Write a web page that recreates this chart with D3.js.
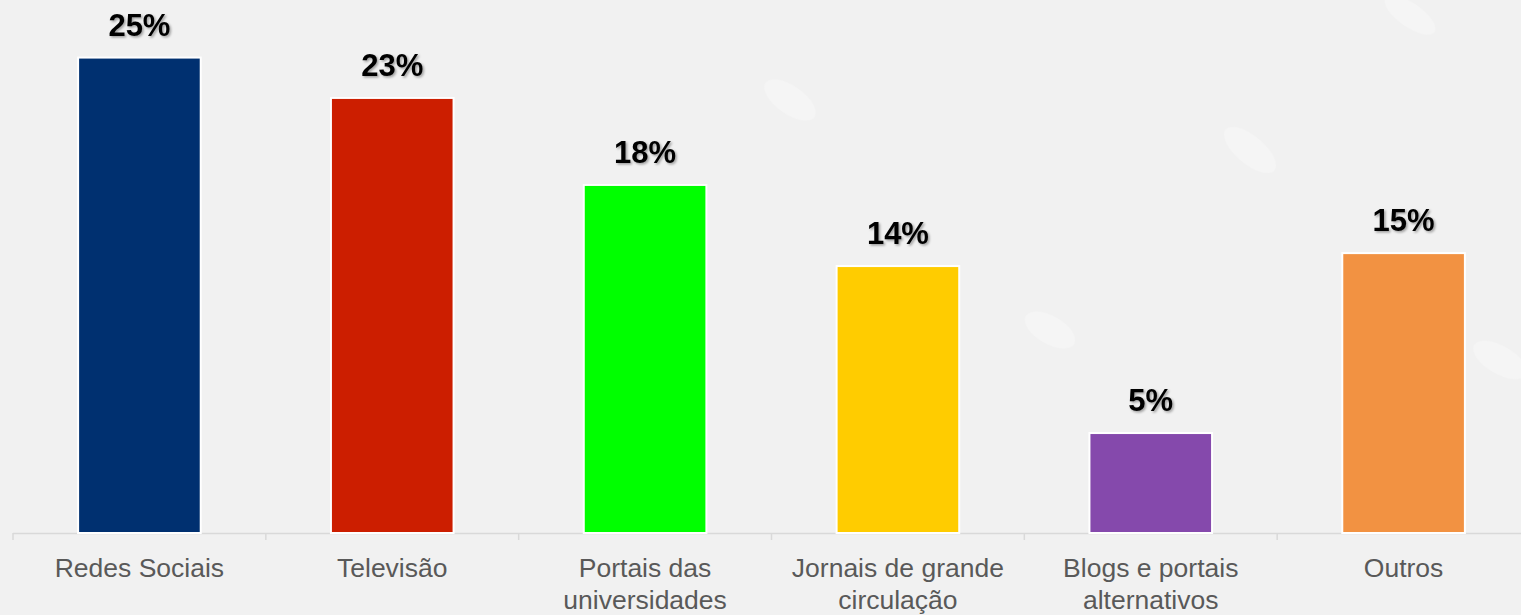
<!DOCTYPE html>
<html>
<head>
<meta charset="UTF-8">
<title>Fontes de informação</title>
<script src="https://d3js.org/d3.v7.min.js"></script>
<style>
    html, body { margin: 0; padding: 0; background: #f1f1f1; overflow: hidden; }
    text { font-family: "Liberation Sans", Arial, sans-serif; }
</style>
</head>
<body>
<div id="chart"></div>
<script>
    // data
    var categories = ["Redes Sociais", "Televisão", "Portais das universidades",
        "Jornais de grande circulação", "Blogs e portais alternativos", "Outros"];
    var labelLines = [["Redes Sociais"], ["Televisão"], ["Portais das", "universidades"],
        ["Jornais de grande", "circulação"], ["Blogs e portais", "alternativos"], ["Outros"]];
    var values = [24.97, 22.85, 18.28, 14.02, 5.25, 14.7];
    var colors = ["#003070", "#cc1e00", "#00ff00", "#ffcc00", "#8549ac", "#f29242"];

    var width = 1521, height = 615;
    var margin = {top: 57, right: -9, bottom: 82, left: 13};

    var svg = d3.select("#chart").append("svg")
        .attr("width", width)
        .attr("height", height);

    svg.append("rect").attr("width", width).attr("height", height).attr("fill", "#f1f1f1");

    // faint watermark shapes in the background
    var deco = svg.append("g").attr("fill", "#ffffff").attr("opacity", 0.3);
    deco.append("ellipse").attr("cx", 790).attr("cy", 100).attr("rx", 30).attr("ry", 14).attr("transform", "rotate(35,790,100)");
    deco.append("ellipse").attr("cx", 1250).attr("cy", 150).attr("rx", 32).attr("ry", 14).attr("transform", "rotate(40,1250,150)");
    deco.append("ellipse").attr("cx", 1050).attr("cy", 330).attr("rx", 28).attr("ry", 14).attr("transform", "rotate(30,1050,330)");
    deco.append("ellipse").attr("cx", 1500).attr("cy", 360).attr("rx", 30).attr("ry", 14).attr("transform", "rotate(30,1500,360)");
    deco.append("ellipse").attr("cx", 1410).attr("cy", 15).attr("rx", 30).attr("ry", 12).attr("transform", "rotate(35,1410,15)");

    var defs = svg.append("defs");
    var shadow = defs.append("filter").attr("id", "shadow")
        .attr("x", "-20%").attr("y", "-20%").attr("width", "140%").attr("height", "140%");
    shadow.append("feDropShadow").attr("dx", 1.5).attr("dy", 1.5)
        .attr("stdDeviation", 1).attr("flood-color", "#000").attr("flood-opacity", 0.35);

    var x = d3.scaleBand()
        .domain(categories)
        .range([margin.left, width - margin.right])
        .paddingInner(0.515)
        .paddingOuter(0.2575);

    var y = d3.scaleLinear()
        .domain([0, 25])
        .range([height - margin.bottom, margin.top]);

    var baseY = height - margin.bottom;

    // axis line with separating ticks
    var step = x.step();
    var x0 = margin.left;
    svg.append("line")
        .attr("x1", x0).attr("x2", width)
        .attr("y1", baseY + 0.5).attr("y2", baseY + 0.5)
        .attr("stroke", "#d9d9d9").attr("stroke-width", 1.5);
    svg.selectAll(".sep")
        .data(d3.range(categories.length + 1))
        .enter().append("line")
        .attr("x1", function (i) { return x0 + i * step; })
        .attr("x2", function (i) { return x0 + i * step; })
        .attr("y1", baseY).attr("y2", baseY + 7)
        .attr("stroke", "#d9d9d9").attr("stroke-width", 1.5);

    // bars
    svg.selectAll(".bar")
        .data(values)
        .enter().append("rect")
        .attr("class", "bar")
        .attr("x", function (d, i) { return x(categories[i]); })
        .attr("y", function (d) { return y(d); })
        .attr("width", x.bandwidth())
        .attr("height", function (d) { return baseY - y(d); })
        .attr("fill", function (d, i) { return colors[i]; })
        .attr("stroke", "#ffffff")
        .attr("stroke-width", 2);

    // value labels
    svg.selectAll(".val")
        .data(values)
        .enter().append("text")
        .attr("class", "val")
        .attr("x", function (d, i) { return x(categories[i]) + x.bandwidth() / 2; })
        .attr("y", function (d) { return y(d) - 22; })
        .attr("text-anchor", "middle")
        .attr("font-size", 31)
        .attr("font-weight", "bold")
        .attr("fill", "#000")
        .attr("filter", "url(#shadow)")
        .text(function (d) { return d3.format(".0f")(d) + "%"; });

    // category labels
    var cat = svg.selectAll(".cat")
        .data(labelLines)
        .enter().append("text")
        .attr("class", "cat")
        .attr("x", function (d, i) { return x(categories[i]) + x.bandwidth() / 2; })
        .attr("y", baseY + 44)
        .attr("text-anchor", "middle")
        .attr("font-size", 26.5)
        .attr("fill", "#595959");

    cat.selectAll("tspan")
        .data(function (d) { return d; })
        .enter().append("tspan")
        .attr("x", function () { return d3.select(this.parentNode).attr("x"); })
        .attr("dy", function (d, i) { return i === 0 ? 0 : 32; })
        .text(function (d) { return d; });
</script>
</body>
</html>
